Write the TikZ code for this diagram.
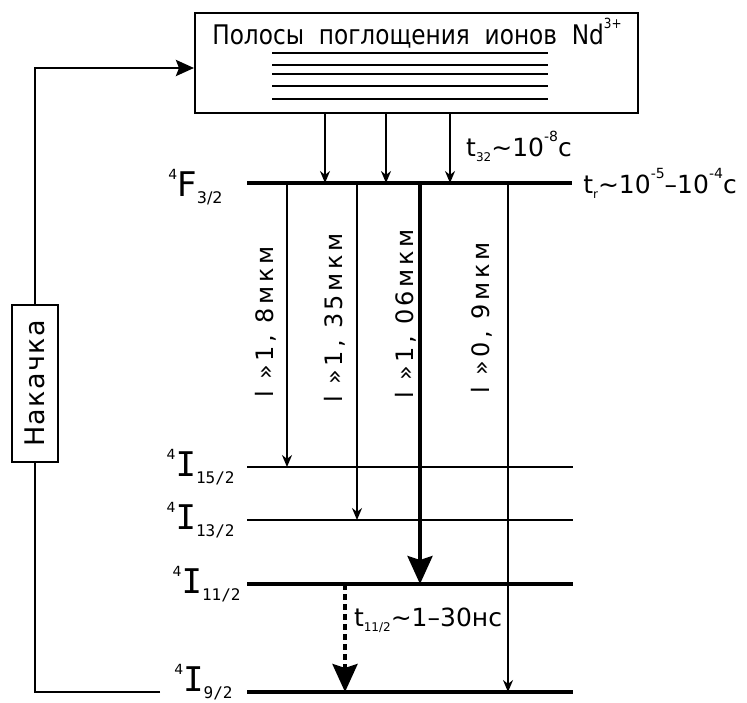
\documentclass[tikz,border=0pt]{standalone}
\usepackage{fontspec}
\setmainfont{DejaVu Sans}
\newfontfamily\lvlmono{DejaVu Sans Mono}
\usetikzlibrary{arrows.meta, positioning, calc}
% уровень: верхний индекс 4, буква, нижний индекс
\newcommand\lvl[2]{\raisebox{0.9ex}{\fontsize{7}{8}\selectfont 4}#1\raisebox{-3.5pt}{\fontsize{8}{9}\selectfont #2}}
\newcommand\tsub[1]{\raisebox{-2.5pt}{\fontsize{6}{7}\selectfont #1}}
\newcommand\tsup[1]{\raisebox{1.1ex}{\fontsize{7}{8}\selectfont #1}}

\begin{document}
\begin{tikzpicture}[
    x=0.5pt, y=-0.5pt,
    bandbox/.style={
        draw, line width=1pt,
        minimum width=221.5pt, minimum height=50pt, inner sep=0pt},
    bandline/.style={line width=1pt},
    bandtitle/.style={inner sep=0pt,
        font=\fontsize{13.5}{15}\selectfont\addfontfeature{FakeStretch=0.86}},
    thinlvl/.style={line width=1.1pt},
    thicklvl/.style={line width=2.2pt},
    lvllab/.style={font=\fontsize{17}{19}\selectfont, inner sep=0pt},
    tr/.style={-{Stealth[length=6pt, width=5pt]}, line width=0.8pt},
    trbig/.style={-{Stealth[length=14pt, width=12.5pt, inset=2pt]}, line width=1.8pt},
    nonrad/.style={trbig, dash pattern=on 3pt off 2pt, line width=2pt},
    wl/.style={rotate=90, inner sep=0pt,
        font=\fontsize{12}{14}\selectfont\addfontfeature{LetterSpace=15}},
    tlab/.style={font=\fontsize{12.5}{14}\selectfont, inner sep=0pt},
    pumpbox/.style={draw, rotate=90, line width=0.8pt, fill=white,
        minimum width=78.5pt, minimum height=23pt,
        font=\fontsize{13.5}{16}\selectfont\addfontfeature{LetterSpace=5}},
    pumpline/.style={line width=1.4pt},
    pumparr/.style={pumpline, -{Stealth[length=9pt, width=8pt, inset=1.5pt]}}]
  \useasboundingbox (0,0) rectangle (747,702);
  % Полосы поглощения
  \node[bandbox] (bands) at (416.5,63) {};
  \node[bandtitle] (btitle) at (417,33)
    {Полосы\ \ поглощения\ \ ионов\ \ Nd\tsup{3+}};
  \foreach \y in {53,65,74,86,99}
    \draw[bandline] (272,\y) -- (548,\y);
  % Уровни
  \coordinate (F-w)   at (247,183); \coordinate (F-e)   at (572,183);
  \coordinate (I15-w) at (247,467); \coordinate (I15-e) at (573,467);
  \coordinate (I13-w) at (247,520); \coordinate (I13-e) at (573,520);
  \coordinate (I11-w) at (247,584); \coordinate (I11-e) at (573,584);
  \coordinate (I9-w)  at (247,692); \coordinate (I9-e)  at (573,692);
  \draw[thicklvl] (F-w)   -- (F-e);
  \draw[thinlvl]  (I15-w) -- (I15-e);
  \draw[thinlvl]  (I13-w) -- (I13-e);
  \draw[thicklvl] (I11-w) -- (I11-e);
  \draw[thicklvl] (I9-w)  -- (I9-e);
  \node[lvllab, left=12pt of F-w, yshift=-2pt] (lF)   {\lvl{F}{3/2}};
  \node[lvllab, left=6pt of I15-w] (lI15) {\lvl{\lvlmono I}{15/2}};
  \node[lvllab, left=6pt of I13-w] (lI13) {\lvl{\lvlmono I}{13/2}};
  \node[lvllab, left=3pt of I11-w] (lI11) {\lvl{\lvlmono I}{11/2}};
  \node[lvllab, left=7pt of I9-w, yshift=5pt] (lI9) {\lvl{\lvlmono I}{9/2}};
  % Безызлучательные переходы с полос
  \foreach \x [count=\i] in {325,386,450}
    \coordinate (p\i) at (\x,0);
  \foreach \i in {1,2,3}
    \draw[tr] (bands.south -| p\i) -- (p\i |- F-w);
  \node[tlab] (t32) at (519,146) {t\tsub{32}\textasciitilde10\tsup{-8}с};
  \node[tlab] (tr)  at (660,183) {t\tsub{r}\textasciitilde10\tsup{-5}–10\tsup{-4}с};
  % Генерационные переходы
  \coordinate (c1) at (287,0);
  \coordinate (c2) at (357,0);
  \coordinate (c3) at (420,0);
  \coordinate (c4) at (508,0);
  \draw[tr]    (c1 |- F-w) -- (c1 |- I15-w);
  \draw[tr]    (c2 |- F-w) -- (c2 |- I13-w);
  \draw[trbig] (c3 |- F-w) -- (c3 |- I11-w);
  \draw[tr]    (c4 |- F-w) -- (c4 |- I9-w);
  \node[wl] (wl1) at (266,322) {l »1, 8мкм};
  \node[wl] (wl2) at (335,318) {l »1, 35мкм};
  \node[wl] (wl3) at (406,314) {l »1, 06мкм};
  \node[wl] (wl4) at (482,318) {l »0, 9мкм};
  % Релаксация на основной уровень
  \coordinate (c5) at (345,0);
  \draw[nonrad] (c5 |- I11-w) -- (c5 |- I9-w);
  \node[tlab] (t11) at (428,620) {t\tsub{11/2}\textasciitilde1–30нс};
  % Накачка
  \node[pumpbox] (pump) at (35,383.5) {Накачка};
  \coordinate (gnd) at (160,692);
  \draw[pumpline] (gnd) -| (pump.west);
  \draw[pumparr] (pump.east) |- ([yshift=-2.5pt]bands.west);
\end{tikzpicture}
\end{document}
